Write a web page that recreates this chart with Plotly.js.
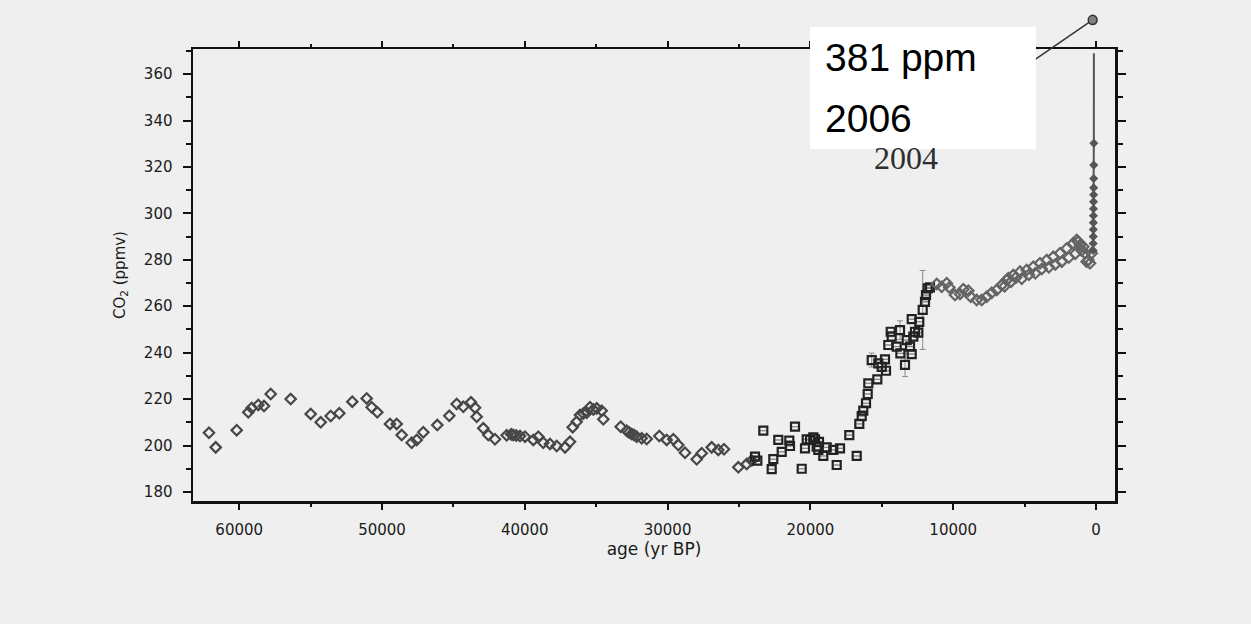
<!DOCTYPE html>
<html>
<head>
<meta charset="utf-8">
<script src="https://cdn.plot.ly/plotly-3.0.1.min.js"></script>
<style>
html,body{margin:0;padding:0;background:#efefef;}
#chart{width:1251px;height:624px;}
</style>
</head>
<body>
<div id="chart"></div>
<script>
// ---- Data ----
// Glacial ice-core CO2 (open diamonds)
const glacialAge = [62115,61646,60175,59363,59125,58663,58263,57794,56394,54993,
  54293,53593,52990,52080,51071,50721,50329,49440,48971,48621,
  47920,47570,47108,46128,45287,44769,44307,43768,43487,43368,
  42906,42556,42087,41268,40950,40805,40600,40336,39986,39405,
  39055,38705,38235,37766,37185,36835,36646,36366,36134,35900,
  35665,35434,35200,34965,34615,34503,33284,32864,32700,32514,
  32350,32164,31814,31464,30581,30063,29601,29251,28782,27962,
  27612,26912,26450,26050,25049,24461,24111];
const glacialCO2 = [205.5,199.2,206.6,214.3,216.2,217.5,217.0,222.2,220.0,213.6,
  210.0,212.7,213.9,218.9,220.3,216.5,214.3,209.3,209.3,204.5,
  201.2,202.4,205.7,208.8,212.8,217.9,216.7,218.6,216.3,212.4,
  207.4,204.5,202.7,204.4,204.8,204.5,204.3,204.1,203.8,202.4,
  203.8,201.2,200.7,199.8,199.2,201.6,207.9,210.2,213.1,213.8,
  214.1,216.5,215.5,216.0,215.0,211.3,208.1,206.4,205.6,205.0,
  204.5,203.8,203.1,202.8,204.1,202.4,202.7,200.2,196.9,194.1,
  196.7,199.2,198.1,198.4,190.6,192.0,193.5];

// Deglaciation (open squares) with error bars
const deglacAge = [23880,23718,23298,22710,22598,22248,22010,21478,21429,21078,
  20609,20378,20259,20028,19797,19678,19559,19447,19400,19097,
  18858,18396,18158,17927,17276,16758,16576,16408,16296,16106,
  15987,15946,15707,15315,15245,15007,14776,14706,14545,14377,
  14307,13957,13725,13700,13375,13256,13025,12906,12906,12794,
  12675,12444,12374,12136,11975,11905,11786,11625];
const deglacCO2 = [195.2,193.5,206.4,189.8,194.1,202.4,197.3,202.1,199.8,208.1,
  190.0,198.8,202.7,202.4,203.5,202.7,199.5,198.1,201.6,195.5,
  199.2,198.1,191.6,198.8,204.5,195.5,209.3,212.7,215.0,218.2,
  222.2,226.8,236.8,228.5,235.4,233.9,237.1,232.2,243.3,249.0,
  246.9,242.6,249.7,239.7,234.7,245.4,242.6,239.4,254.4,246.9,
  249.0,248.6,253.3,258.4,261.9,264.8,267.7,268.1];
const deglacErr = [0,0,0,0,0,0,0,0,0,0,
  0,0,0,0,0,0,0,0,0,0,
  0,0,0,0,0,0,0,0,0,0,
  0,0,3,0,0,0,0,0,0,0,
  0,0,4,0,5,0,0,0,0,0,
  0,0,0,17,0,0,0,0];

// Holocene (open diamonds)
const holoAge = [11155,10805,10455,10273,9874,9524,9293,8942,8775,8354,
  8004,7654,7304,6954,6604,6400,6254,6141,5950,5791,
  5600,5322,5200,4853,4700,4391,4250,3922,3800,3452,
  3300,2990,2850,2521,2400,2052,1900,1590,1450,1351,
  1239,1120,1000,889,770,651,539,420,301];
const holoCO2 = [269.6,268.4,269.9,268.1,264.8,265.3,267.3,266.7,264.1,262.7,
  262.7,264.1,265.8,267.0,269.1,268.6,271.3,272.0,270.6,273.4,
  272.4,274.9,271.8,275.6,273.6,277.0,274.2,278.5,276.0,279.9,
  276.8,281.3,278.0,282.8,279.2,284.9,281.0,287.1,282.6,288.5,
  287.8,286.4,284.0,285.6,282.8,279.2,279.9,278.5,282.8];

// Recent rise (column at the right edge)
const recentAge = [200,196,192,188,184,180,176,172,168,164,160,156,152,148];
const recentCO2 = [284,287,290,293,296,299,302,305,308,311,315,320.8,330.2,369];

// Callout texts
const noteValue = '381 ppm';
const noteYear = '2006';
const oldYear = '2004';

// Ticks
const xTickVals = [60000,50000,40000,30000,20000,10000,0];
const xTickText = ['60000','50000','40000','30000','20000','10000','0'];
const yTickVals = [180,200,220,240,260,280,300,320,340,360];
const yTickText = ['180','200','220','240','260','280','300','320','340','360'];

// ---- Traces ----
const traces = [
  {x: glacialAge, y: glacialCO2, type:'scatter', mode:'markers',
   marker:{symbol:'diamond-open', size:8, color:'#474747', line:{width:2.2, color:'#474747'}}},
  {x: deglacAge, y: deglacCO2, type:'scatter', mode:'markers',
   error_y:{type:'data', array: deglacErr, visible:true, color:'#8a8a8a', thickness:1, width:3},
   marker:{symbol:'square-open', size:8, color:'#222', line:{width:2.2, color:'#222'}}},
  {x: holoAge, y: holoCO2, type:'scatter', mode:'markers',
   marker:{symbol:'diamond-open', size:8, color:'#646464', line:{width:2.2, color:'#646464'}}},
  {x: recentAge, y: recentCO2, type:'scatter', mode:'lines',
   line:{color:'#555', width:2}},
  {x: recentAge.slice(0, -1), y: recentCO2.slice(0, -1), type:'scatter', mode:'markers',
   marker:{symbol:'diamond', size:7, color:'#555'}}
];

const tickFont = {family:'DejaVu Sans, Liberation Sans, sans-serif', size:15, color:'#1a1a1a'};

const layout = {
  width:1251, height:624,
  paper_bgcolor:'#efefef', plot_bgcolor:'#efefef',
  margin:{l:193, r:136, t:49, b:123, pad:0},
  showlegend:false,
  xaxis:{
    range:[63235,-1330], tickmode:'array', tickvals:xTickVals, ticktext:xTickText,
    ticks:'outside', ticklen:6, tickwidth:2, tickcolor:'#111',
    minor:{dtick:5000, tick0:0, ticks:'outside', ticklen:3, tickwidth:2, tickcolor:'#111'},
    showline:true, linecolor:'#111', linewidth:2.5, mirror:'ticks',
    showgrid:false, zeroline:false, tickfont:tickFont, ticklabelstandoff:7,
    title:{text:'age (yr BP)', standoff:6,
      font:{family:'DejaVu Sans, Liberation Sans, sans-serif', size:17, color:'#1a1a1a'}}
  },
  yaxis:{
    range:[176.1,370.8], tickmode:'array', tickvals:yTickVals, ticktext:yTickText,
    ticks:'outside', ticklen:8, tickwidth:2, tickcolor:'#111',
    minor:{dtick:10, tick0:0, ticks:'outside', ticklen:5, tickwidth:2, tickcolor:'#111'},
    showline:true, linecolor:'#111', linewidth:2.5, mirror:'ticks',
    showgrid:false, zeroline:false, tickfont:tickFont, ticklabelstandoff:7,
    title:{text:'CO<sub>2</sub> (ppmv)', standoff:15,
      font:{family:'DejaVu Sans, Liberation Sans, sans-serif', size:15, color:'#1a1a1a'}}
  },
  shapes:[
    // white callout box
    {type:'rect', xref:'paper', yref:'paper', x0:0.6692, x1:0.9143, y0:0.7788, y1:1.0487,
     fillcolor:'#ffffff', line:{width:0}, layer:'above'},
    // pointer line and dot
    {type:'line', xref:'paper', yref:'paper', x0:0.9143, y0:0.9779, x1:0.9758, y1:1.0642,
     line:{color:'#333', width:1.5}, layer:'above'},
    {type:'circle', xref:'paper', yref:'paper', x0:0.9710, x1:0.9806, y0:1.0540, y1:1.0744,
     fillcolor:'#808080', line:{color:'#333', width:1.5}, layer:'above'}
  ],
  annotations:[
    {xref:'paper', yref:'paper', x:0.7733, y:0.7590, xanchor:'center', yanchor:'middle',
     text:oldYear, showarrow:false,
     font:{family:'Liberation Serif, DejaVu Serif, serif', size:32, color:'#2e2e2e'}},
    {xref:'paper', yref:'paper', x:0.6833, y:0.9823, xanchor:'left', yanchor:'middle',
     text:noteValue, showarrow:false,
     font:{family:'Liberation Sans, Arial, sans-serif', size:39, color:'#000'}},
    {xref:'paper', yref:'paper', x:0.6833, y:0.8473, xanchor:'left', yanchor:'middle',
     text:noteYear, showarrow:false,
     font:{family:'Liberation Sans, Arial, sans-serif', size:39, color:'#000'}}
  ]
};

Plotly.newPlot('chart', traces, layout, {staticPlot:true, displayModeBar:false});
</script>
</body>
</html>
